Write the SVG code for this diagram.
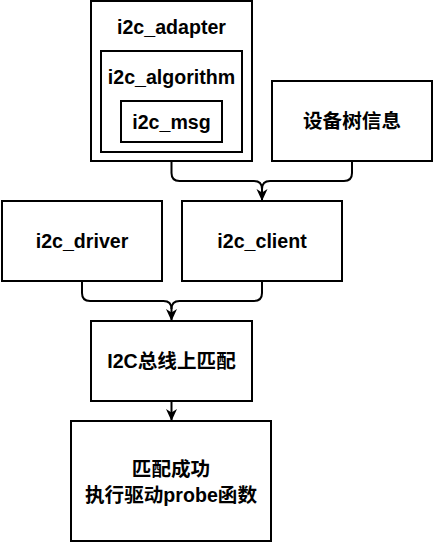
<svg xmlns="http://www.w3.org/2000/svg" width="433" height="542" viewBox="0 0 433 542">
<defs>
<style>
.b{fill:#fff;stroke:#000;stroke-width:2}
.t{font-family:"Liberation Sans","Noto Sans CJK SC",sans-serif;font-weight:bold;font-size:19.6px;fill:#000;text-anchor:middle;dominant-baseline:central}
.c{fill:none;stroke:#000;stroke-width:2}
</style>
<marker id="ah" markerWidth="12" markerHeight="12" refX="11" refY="6" orient="auto" markerUnits="userSpaceOnUse">
<path d="M0,0.5 L12,6 L0,11.5 L3.5,6 Z" fill="#000"/>
</marker>
</defs>
<rect width="433" height="542" fill="#fff"/>
<g id="adapter">
<rect class="b" x="91" y="1" width="161" height="160"/>
<text class="t" x="171.5" y="27">i2c_adapter</text>
</g>
<g id="algorithm">
<rect class="b" x="101" y="51" width="141" height="101"/>
<text class="t" x="171.5" y="77">i2c_algorithm</text>
</g>
<g id="msg">
<rect class="b" x="121" y="101" width="101" height="41"/>
<text class="t" x="171.5" y="122">i2c_msg</text>
</g>
<g id="dts">
<rect class="b" x="272" y="81" width="160" height="80"/>
<text class="t" x="352" y="121">设备树信息</text>
</g>
<g id="driver">
<rect class="b" x="2" y="201" width="160" height="80"/>
<text class="t" x="82" y="241">i2c_driver</text>
</g>
<g id="client">
<rect class="b" x="182" y="201" width="160" height="80"/>
<text class="t" x="262" y="241">i2c_client</text>
</g>
<g id="match">
<rect class="b" x="91" y="321" width="161" height="80"/>
<text class="t" x="171.5" y="361">I2C总线上匹配</text>
</g>
<g id="probe">
<rect class="b" x="71" y="421" width="200" height="120"/>
<text class="t" x="171" y="469">匹配成功</text>
<text class="t" x="171" y="495">执行驱动probe函数</text>
</g>
<g id="connectors">
<path class="c" d="M171.5,161 V173 Q171.5,181 179.5,181 H254 Q262,181 262,189 V200" marker-end="url(#ah)"/>
<path class="c" d="M352,161 V173 Q352,181 344,181 H270 Q262,181 262,189"/>
<path class="c" d="M82,281 V293 Q82,301 90,301 H163.5 Q171.5,301 171.5,309 V320" marker-end="url(#ah)"/>
<path class="c" d="M262,281 V293 Q262,301 254,301 H179.5 Q171.5,301 171.5,309"/>
<path class="c" d="M171.5,401 V420" marker-end="url(#ah)"/>
</g>
</svg>
